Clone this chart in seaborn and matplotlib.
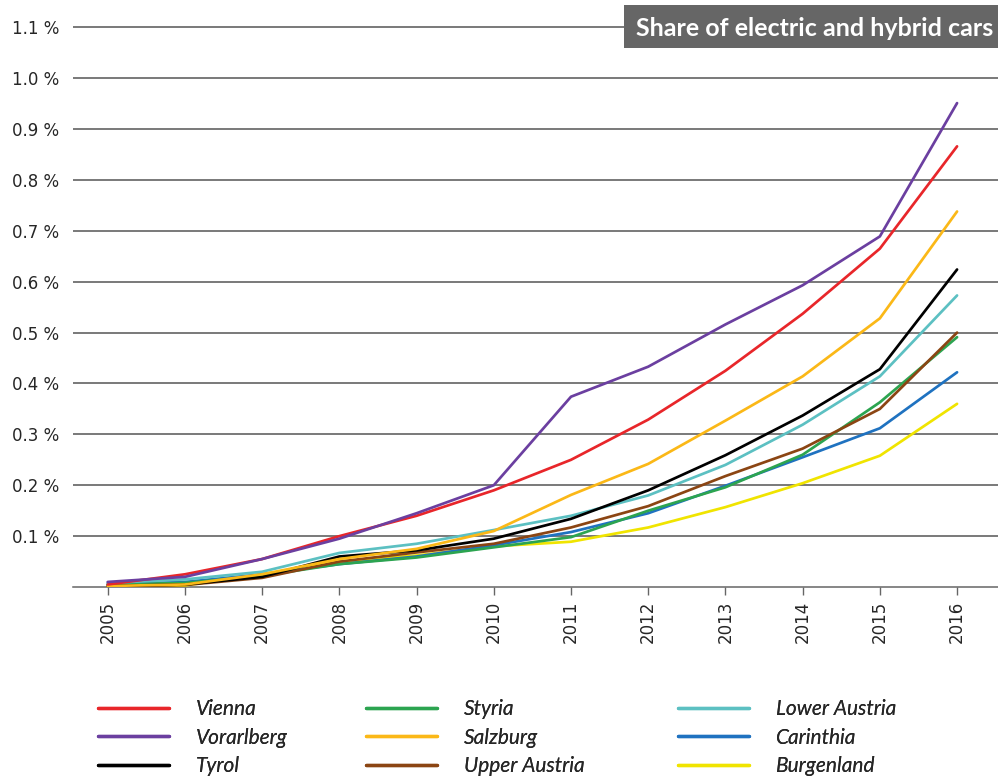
import matplotlib
matplotlib.use("Agg")
import matplotlib.pyplot as plt
from matplotlib.lines import Line2D
from matplotlib.patches import Rectangle
import seaborn as sns
import pandas as pd

years = list(range(2005, 2017))

vienna        = [0.005, 0.025, 0.055, 0.100, 0.140, 0.190, 0.250, 0.329, 0.425, 0.537, 0.665, 0.866]
vorarlberg    = [0.010, 0.020, 0.055, 0.095, 0.145, 0.200, 0.374, 0.433, 0.516, 0.593, 0.689, 0.951]
tyrol         = [0.002, 0.005, 0.020, 0.060, 0.072, 0.095, 0.134, 0.190, 0.259, 0.337, 0.428, 0.624]
styria        = [0.005, 0.008, 0.022, 0.045, 0.058, 0.078, 0.098, 0.150, 0.196, 0.260, 0.363, 0.491]
salzburg      = [0.002, 0.005, 0.025, 0.055, 0.075, 0.110, 0.181, 0.242, 0.327, 0.414, 0.528, 0.738]
upper_austria = [0.001, 0.004, 0.018, 0.050, 0.068, 0.085, 0.117, 0.159, 0.218, 0.272, 0.350, 0.500]
lower_austria = [0.008, 0.015, 0.030, 0.067, 0.085, 0.112, 0.140, 0.180, 0.240, 0.319, 0.414, 0.573]
carinthia     = [0.005, 0.010, 0.025, 0.045, 0.060, 0.082, 0.108, 0.145, 0.199, 0.255, 0.312, 0.422]
burgenland    = [0.000, 0.003, 0.025, 0.050, 0.062, 0.080, 0.089, 0.117, 0.157, 0.204, 0.258, 0.360]

regions = ["Vienna", "Vorarlberg", "Tyrol", "Styria", "Salzburg",
           "Upper Austria", "Lower Austria", "Carinthia", "Burgenland"]
series = [vienna, vorarlberg, tyrol, styria, salzburg,
          upper_austria, lower_austria, carinthia, burgenland]
colors = {
    "Vienna": "#e8262a",
    "Vorarlberg": "#6b3fa0",
    "Tyrol": "#000000",
    "Styria": "#2ca450",
    "Salzburg": "#fbb817",
    "Upper Austria": "#8b4513",
    "Lower Austria": "#5cc0c2",
    "Carinthia": "#1f72c0",
    "Burgenland": "#f0e400",
}
ytick_vals = [0.1, 0.2, 0.3, 0.4, 0.5, 0.6, 0.7, 0.8, 0.9, 1.0, 1.1]
title = "Share of electric and hybrid cars"

frames = [pd.DataFrame({"year": years, "share": vals, "region": name})
          for name, vals in zip(regions, series)]
df = pd.concat(frames, ignore_index=True)

sns.set_style("white")
plt.rcParams["font.family"] = ["DejaVu Sans"]

fig = plt.figure(figsize=(9.98, 7.77), dpi=100)
ax = fig.add_axes([0.0731, 0.2445, 0.9269, 0.978 - 0.2445])

draw_order = ["Burgenland", "Carinthia", "Styria", "Upper Austria", "Lower Austria",
              "Tyrol", "Salzburg", "Vienna", "Vorarlberg"]
sns.lineplot(data=df, x="year", y="share", hue="region", hue_order=draw_order,
             palette=colors, linewidth=1.95, legend=False, ax=ax, zorder=3)

ax.set_xlim(2004.55, 2016.53)
ax.set_ylim(0, 1.12)
ax.set_xticks(years)
ax.set_xticklabels([str(y) for y in years], rotation=90, fontsize=12)
ax.set_yticks(ytick_vals)
ax.set_yticklabels([f"{v:.1f} %" for v in ytick_vals], fontsize=12)
ax.tick_params(axis="y", length=0, pad=10)
ax.tick_params(axis="x", length=6, width=1, color="#666666", direction="out",
               bottom=True, pad=4)
ax.set_xlabel("")
ax.set_ylabel("")
ax.yaxis.grid(True, color="#555555", linewidth=1.1)
ax.xaxis.grid(False)
for side in ["left", "right", "top"]:
    ax.spines[side].set_visible(False)
ax.spines["bottom"].set_color("#666666")
ax.spines["bottom"].set_linewidth(1.1)

# title box at the top right
fig.patches.append(Rectangle((624 / 998, 1 - 48 / 777), (998 - 624) / 998, 43 / 777,
                             transform=fig.transFigure, facecolor="#666666",
                             edgecolor="none", zorder=5))
fig.text(815 / 998, 1 - 28 / 777, title, color="white", fontsize=18,
         fontweight="bold", family=["Lato"], ha="center", va="center", zorder=6)

# legend, three columns
col_anchor_x = [98 / 998, 366 / 998, 678 / 998]
for c in range(3):
    names = regions[c * 3:(c + 1) * 3]
    handles = [Line2D([0], [0], color=colors[n], linewidth=2.4) for n in names]
    leg = fig.legend(handles, names, loc="upper left",
                     bbox_to_anchor=(col_anchor_x[c], 1 - 699 / 777),
                     frameon=False, handlelength=3.4, handletextpad=1.3,
                     labelspacing=0.42, borderaxespad=0, borderpad=0,
                     prop={"family": "Lato", "style": "italic", "size": 15})
    fig.add_artist(leg)

fig.savefig("out.png", dpi=100)
